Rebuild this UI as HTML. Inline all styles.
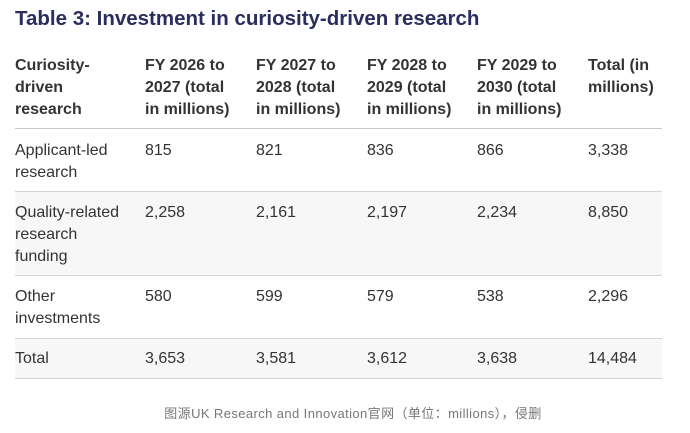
<!DOCTYPE html>
<html><head><meta charset="utf-8"><style>
body{margin:0;width:690px;height:433px;background:#fff;font-family:"Liberation Sans",Arial,sans-serif;position:relative;overflow:hidden}
.t{position:absolute;left:15px;top:7px;font-size:20.5px;font-weight:bold;color:#2b2d5e}
.c{position:absolute;font-size:16px;line-height:22px;color:#333}
.h{font-weight:bold;color:#333}
.bg{position:absolute;left:15px;width:647px;background:#f7f7f7}
.ln{position:absolute;left:15px;width:647px;height:1px;background:#d4d4d4}
.f{position:absolute;top:403px;left:0;width:706px;text-align:center;font-size:13px;letter-spacing:0.4px;color:#777;font-family:"Liberation Sans","Noto Sans CJK SC",sans-serif}
</style></head><body>
<div class="t">Table 3: Investment in curiosity-driven research</div>
<div class="bg" style="top:191px;height:84px"></div>
<div class="bg" style="top:338px;height:40px"></div>
<div class="ln" style="top:128px;background:#c8c8c8"></div>
<div class="ln" style="top:191px"></div>
<div class="ln" style="top:275px"></div>
<div class="ln" style="top:338px"></div>
<div class="ln" style="top:378px"></div>
<div class="c h" style="left:15px;top:55px">Curiosity-<br>driven<br>research</div>
<div class="c h" style="left:145px;top:55px">FY 2026 to<br>2027 (total<br>in millions)</div>
<div class="c h" style="left:256px;top:55px">FY 2027 to<br>2028 (total<br>in millions)</div>
<div class="c h" style="left:367px;top:55px">FY 2028 to<br>2029 (total<br>in millions)</div>
<div class="c h" style="left:477px;top:55px">FY 2029 to<br>2030 (total<br>in millions)</div>
<div class="c h" style="left:588px;top:55px">Total (in<br>millions)</div>

<div class="c" style="left:15px;top:140px">Applicant-led<br>research</div>
<div class="c" style="left:145px;top:140px">815</div>
<div class="c" style="left:256px;top:140px">821</div>
<div class="c" style="left:367px;top:140px">836</div>
<div class="c" style="left:477px;top:140px">866</div>
<div class="c" style="left:588px;top:140px">3,338</div>

<div class="c" style="left:15px;top:202px">Quality-related<br>research<br>funding</div>
<div class="c" style="left:145px;top:202px">2,258</div>
<div class="c" style="left:256px;top:202px">2,161</div>
<div class="c" style="left:367px;top:202px">2,197</div>
<div class="c" style="left:477px;top:202px">2,234</div>
<div class="c" style="left:588px;top:202px">8,850</div>

<div class="c" style="left:15px;top:286px">Other<br>investments</div>
<div class="c" style="left:145px;top:286px">580</div>
<div class="c" style="left:256px;top:286px">599</div>
<div class="c" style="left:367px;top:286px">579</div>
<div class="c" style="left:477px;top:286px">538</div>
<div class="c" style="left:588px;top:286px">2,296</div>

<div class="c" style="left:15px;top:348px">Total</div>
<div class="c" style="left:145px;top:348px">3,653</div>
<div class="c" style="left:256px;top:348px">3,581</div>
<div class="c" style="left:367px;top:348px">3,612</div>
<div class="c" style="left:477px;top:348px">3,638</div>
<div class="c" style="left:588px;top:348px">14,484</div>

<div class="f">图源UK Research and Innovation官网（单位：millions），侵删</div>
</body></html>
